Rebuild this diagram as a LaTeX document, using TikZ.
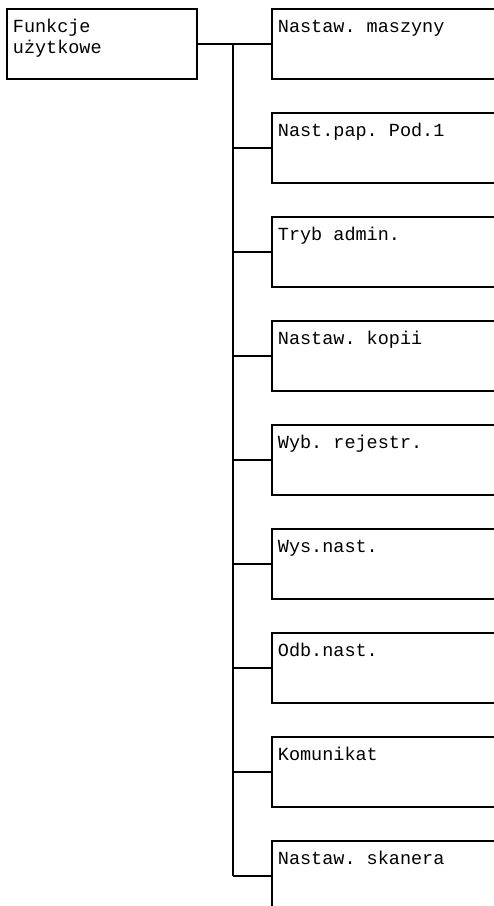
\documentclass[tikz,border=0pt]{standalone}
\usepackage{fontspec}
\setmonofont{Liberation Mono}
\usetikzlibrary{positioning}

\begin{document}
\begin{tikzpicture}[x=1pt,y=-1pt,line width=1.8pt,
		menubox/.style={draw, rectangle, inner sep=0pt, minimum width=190pt, minimum height=70pt, anchor=north west},
		itembox/.style={menubox, minimum width=260pt},
		boxtext/.style={inner sep=0pt, anchor=base west, align=left, font=\ttfamily\fontsize{18.5}{21}\selectfont}]
	\useasboundingbox (0,0) rectangle (494,906);
	\clip (0,0) rectangle (494,906);
	% main box (base anchor sits on the last line)
	\node[menubox] (root) at (6,8) {};
	\node[boxtext] (roottxt) at ([shift={(6pt,-45pt)}]root.north west) {Funkcje\\użytkowe};
	% trunk
	\coordinate (trunktop) at (233,43);
	% items
	\foreach \i/\lab in {0/Nastaw. maszyny,1/Nast.pap. Pod.1,2/Tryb admin.,3/Nastaw. kopii,4/Wyb. rejestr.,5/Wys.nast.,6/Odb.nast.,7/Komunikat,8/Nastaw. skanera} {
		\node[itembox] (item\i) at (271,{8+104*\i}) {};
		\node[boxtext] (itemtxt\i) at ([shift={(6pt,-24pt)}]item\i.north west) {\lab};
		\draw (item\i.west) -- (item\i.west -| trunktop);
	}
	\draw (root.east) -- (item0.west);
	\draw (trunktop) -- (item8.west -| trunktop);
\end{tikzpicture}
\end{document}
